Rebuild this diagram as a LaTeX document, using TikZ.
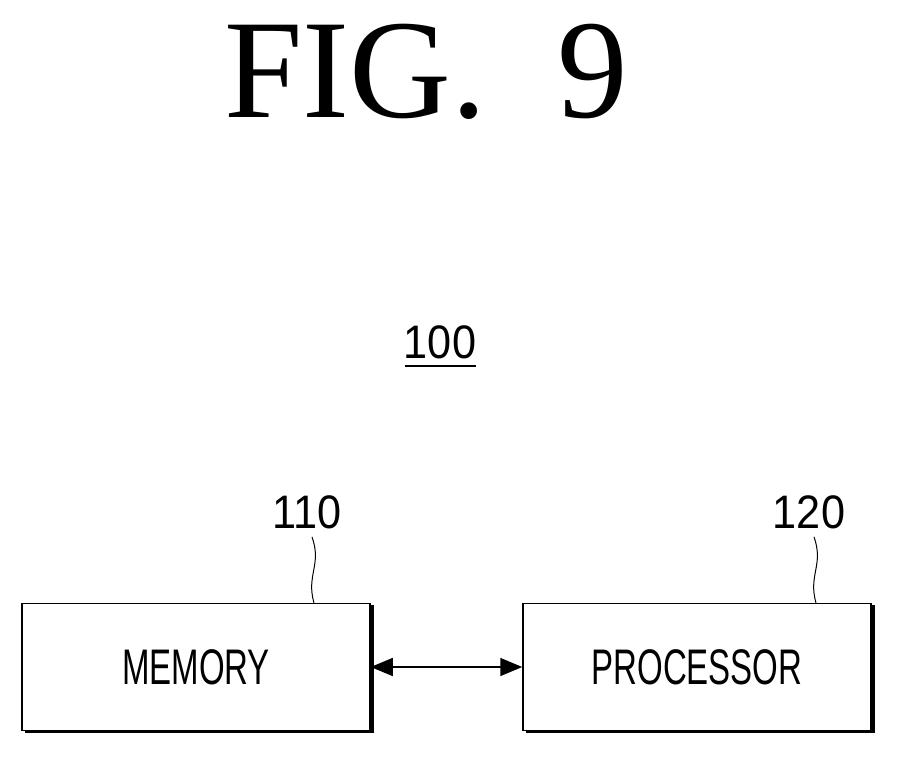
\documentclass[tikz,border=0pt]{standalone}
\usepackage{fontspec}
\setmainfont{Liberation Serif}
\newfontfamily\lab{Liberation Sans}
\usetikzlibrary{arrows.meta}
\begin{document}
\begin{tikzpicture}[x=1pt,y=-1pt,
  box/.style={draw,line width=1.5pt,minimum width=348pt,minimum height=127pt,inner sep=0pt},
  shadow/.style={line width=3pt},
  lbl/.style={font=\lab\fontsize{50}{50}\selectfont,xscale=0.66,inner sep=0pt},
  ref/.style={font=\lab\fontsize{47}{47}\selectfont,xscale=0.92,inner sep=0pt}]
\useasboundingbox (0,0) rectangle (897,756);
\node[font=\fontsize{141}{141}\selectfont] (t) at (426,72) {FIG.\ \ 9};
\node[ref] (n100) at (440,342) {100};
\draw[line width=1.5pt] (405,366) -- (476,366);
\node[box] (m) at (196,667) {};
\node[box] (p) at (697,667) {};
\draw[shadow] (m.north east) ++(1.5,2) -- ++(0,127) -- ++(-347,0);
\draw[shadow] (p.north east) ++(1.5,2) -- ++(0,127) -- ++(-347,0);
\node[lbl] at (m.center) {MEMORY};
\node[lbl] at (p.center) {PROCESSOR};
\draw[line width=1.5pt,{Triangle[length=22pt,width=18pt]}-{Triangle[length=22pt,width=18pt]}] (m.east) -- (p.west);
\node[ref] (n110) at (307,512) {110};
\node[ref] (n120) at (809,512) {120};
\draw[line width=1pt] (n110.south) ++(5,8) .. controls (322,565) and (306,575) .. (314,603);
\draw[line width=1pt] (n120.south) ++(5,8) .. controls (824,565) and (808,575) .. (816,603);
\end{tikzpicture}
\end{document}
